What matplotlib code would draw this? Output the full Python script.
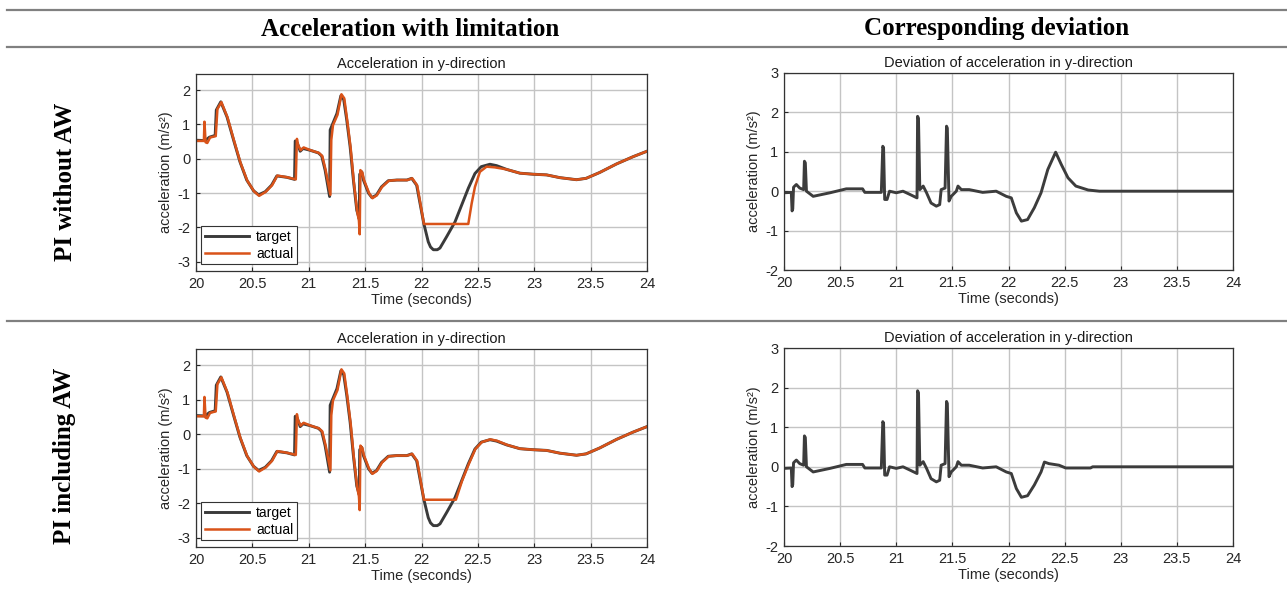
import numpy as np
import matplotlib
matplotlib.use("Agg")
import matplotlib.pyplot as plt
from matplotlib.lines import Line2D
from matplotlib.ticker import FormatStrFormatter

# target acceleration (same in both controller variants)
target_t = [20.00, 20.08, 20.12, 20.17, 20.18, 20.22, 20.275, 20.333, 20.39, 20.45,
            20.51, 20.555, 20.614, 20.67, 20.717, 20.806, 20.874, 20.88, 20.90, 20.924,
            20.95, 21.01, 21.086, 21.115, 21.145, 21.185, 21.19, 21.21, 21.25, 21.285,
            21.31, 21.337, 21.367, 21.396, 21.426, 21.448, 21.452, 21.47, 21.485, 21.53,
            21.56, 21.60, 21.645, 21.705, 21.78, 21.87, 21.913, 21.957, 21.987, 22.02,
            22.06, 22.08, 22.105, 22.14, 22.164, 22.223, 22.297, 22.356, 22.415, 22.474,
            22.53, 22.607, 22.666, 22.755, 22.873, 22.99, 23.11, 23.227, 23.375, 23.46,
            23.58, 23.73, 23.876, 24.00]
target_v = [0.54, 0.53, 0.63, 0.68, 1.42, 1.66, 1.22, 0.55, -0.09, -0.62,
            -0.93, -1.05, -0.96, -0.77, -0.50, -0.54, -0.60, 0.52, 0.45, 0.22,
            0.30, 0.25, 0.17, 0.08, -0.33, -1.10, 0.84, 1.00, 1.32, 1.84,
            1.73, 1.13, 0.35, -0.62, -1.50, -1.75, -0.45, -0.38, -0.62, -1.00,
            -1.13, -1.06, -0.82, -0.64, -0.62, -0.62, -0.57, -0.77, -1.30, -1.88,
            -2.42, -2.57, -2.65, -2.65, -2.60, -2.27, -1.84, -1.35, -0.86, -0.43,
            -0.23, -0.16, -0.20, -0.31, -0.42, -0.45, -0.47, -0.55, -0.61, -0.57,
            -0.40, -0.15, 0.06, 0.22]

# actual acceleration, PI without anti-windup
actual_t_noaw = [20.00, 20.07, 20.075, 20.085, 20.10, 20.125, 20.175, 20.19, 20.225, 20.28,
                 20.338, 20.395, 20.455, 20.515, 20.56, 20.62, 20.675, 20.722, 20.81, 20.885,
                 20.895, 20.905, 20.928, 20.955, 21.015, 21.09, 21.12, 21.15, 21.192, 21.20,
                 21.215, 21.255, 21.29, 21.315, 21.342, 21.372, 21.40, 21.43, 21.445, 21.452,
                 21.458, 21.475, 21.49, 21.535, 21.565, 21.605, 21.65, 21.71, 21.785, 21.875,
                 21.918, 21.962, 21.99, 22.022, 22.415, 22.445, 22.474, 22.518, 22.577, 22.65,
                 22.755, 22.873, 22.99, 23.11, 23.227, 23.375, 23.46, 23.58, 23.73, 23.876,
                 24.00]
actual_v_noaw = [0.52, 0.52, 1.08, 0.48, 0.46, 0.62, 0.66, 1.45, 1.65, 1.20,
                 0.52, -0.12, -0.64, -0.95, -1.08, -0.96, -0.77, -0.49, -0.54, -0.60,
                 0.58, 0.40, 0.25, 0.33, 0.25, 0.17, 0.08, -0.33, -1.05, 0.55,
                 0.98, 1.28, 1.88, 1.76, 1.10, 0.30, -0.68, -1.55, -1.80, -2.20,
                 -0.33, -0.40, -0.62, -1.00, -1.15, -1.06, -0.82, -0.64, -0.62, -0.62,
                 -0.57, -0.78, -1.30, -1.90, -1.90, -1.30, -0.82, -0.38, -0.23, -0.25,
                 -0.31, -0.42, -0.45, -0.47, -0.55, -0.61, -0.57, -0.40, -0.15, 0.06,
                 0.22]

# actual acceleration, PI including anti-windup
actual_t_aw = [20.00, 20.07, 20.075, 20.085, 20.10, 20.125, 20.175, 20.19, 20.225, 20.28,
               20.338, 20.395, 20.455, 20.515, 20.56, 20.62, 20.675, 20.722, 20.81, 20.885,
               20.895, 20.905, 20.928, 20.955, 21.015, 21.09, 21.12, 21.15, 21.192, 21.20,
               21.215, 21.255, 21.29, 21.315, 21.342, 21.372, 21.40, 21.43, 21.445, 21.452,
               21.458, 21.475, 21.49, 21.535, 21.565, 21.605, 21.65, 21.71, 21.785, 21.875,
               21.918, 21.962, 21.99, 22.022, 22.305, 22.36, 22.42, 22.478, 22.535, 22.61,
               22.67, 22.76, 22.873, 22.99, 23.11, 23.227, 23.375, 23.46, 23.58, 23.73,
               23.876, 24.00]
actual_v_aw = [0.52, 0.52, 1.08, 0.48, 0.46, 0.62, 0.66, 1.45, 1.65, 1.20,
               0.52, -0.12, -0.64, -0.95, -1.08, -0.96, -0.77, -0.49, -0.54, -0.60,
               0.58, 0.40, 0.25, 0.33, 0.25, 0.17, 0.08, -0.33, -1.05, 0.55,
               0.98, 1.28, 1.88, 1.76, 1.10, 0.30, -0.68, -1.55, -1.80, -2.20,
               -0.33, -0.40, -0.62, -1.00, -1.15, -1.06, -0.82, -0.64, -0.62, -0.62,
               -0.57, -0.78, -1.30, -1.90, -1.90, -1.35, -0.86, -0.43, -0.23, -0.15,
               -0.19, -0.31, -0.42, -0.45, -0.47, -0.55, -0.61, -0.57, -0.40, -0.15,
               0.06, 0.22]

# deviation target - actual, PI without anti-windup
dev_t_noaw = [20.00, 20.065, 20.072, 20.078, 20.085, 20.095, 20.11, 20.14, 20.175, 20.182,
              20.19, 20.20, 20.26, 20.41, 20.555, 20.70, 20.72, 20.867, 20.88, 20.887,
              20.897, 20.918, 20.94, 21.00, 21.06, 21.12, 21.185, 21.19, 21.198, 21.21,
              21.24, 21.27, 21.31, 21.357, 21.387, 21.40, 21.435, 21.448, 21.455, 21.47,
              21.49, 21.535, 21.55, 21.56, 21.58, 21.65, 21.77, 21.89, 21.98, 22.025,
              22.07, 22.115, 22.17, 22.23, 22.29, 22.35, 22.42, 22.47, 22.53, 22.60,
              22.71, 22.81, 24.00]
dev_v_noaw = [-0.04, -0.03, -0.50, -0.45, 0.10, 0.13, 0.17, 0.08, 0.04, 0.76,
              0.72, 0.00, -0.13, -0.04, 0.06, 0.06, -0.03, -0.03, 1.14, 1.10,
              -0.21, -0.21, 0.00, -0.04, 0.00, -0.08, -0.17, 1.90, 1.85, 0.04,
              0.13, -0.04, -0.30, -0.38, -0.34, 0.04, 0.08, 1.65, 1.60, -0.25,
              -0.13, 0.00, 0.13, 0.10, 0.04, 0.04, -0.03, 0.00, -0.13, -0.17,
              -0.55, -0.76, -0.72, -0.42, -0.04, 0.55, 0.99, 0.68, 0.34, 0.13,
              0.03, 0.00, 0.00]

# deviation target - actual, PI including anti-windup
dev_t_aw = [20.00, 20.065, 20.072, 20.078, 20.085, 20.095, 20.11, 20.14, 20.175, 20.182,
            20.19, 20.20, 20.26, 20.41, 20.555, 20.70, 20.72, 20.867, 20.88, 20.887,
            20.897, 20.918, 20.94, 21.00, 21.06, 21.12, 21.185, 21.19, 21.198, 21.21,
            21.24, 21.27, 21.31, 21.357, 21.387, 21.40, 21.435, 21.448, 21.455, 21.47,
            21.49, 21.535, 21.55, 21.56, 21.58, 21.65, 21.77, 21.89, 21.98, 22.025,
            22.07, 22.115, 22.17, 22.23, 22.29, 22.32, 22.36, 22.45, 22.51, 22.73,
            22.75, 24.00]
dev_v_aw = [-0.04, -0.03, -0.50, -0.45, 0.10, 0.13, 0.17, 0.08, 0.04, 0.78,
            0.74, 0.00, -0.13, -0.04, 0.06, 0.06, -0.03, -0.03, 1.14, 1.10,
            -0.21, -0.21, 0.00, -0.04, 0.00, -0.08, -0.17, 1.92, 1.87, 0.04,
            0.13, -0.04, -0.30, -0.38, -0.34, 0.04, 0.08, 1.65, 1.60, -0.25,
            -0.13, 0.00, 0.13, 0.10, 0.04, 0.04, -0.03, 0.00, -0.13, -0.17,
            -0.55, -0.77, -0.73, -0.46, -0.13, 0.12, 0.08, 0.04, -0.03, -0.03,
            0.00, 0.00]

col_headers = ["Acceleration with limitation", "Corresponding deviation"]
row_labels = ["PI without AW", "PI including AW"]
x_ticks = [20, 20.5, 21, 21.5, 22, 22.5, 23, 23.5, 24]

W, H = 1287, 592
plt.rcParams['font.family'] = ['Liberation Sans', 'DejaVu Sans']

fig = plt.figure(figsize=(W / 100, H / 100), dpi=100)


def box(x0, y0, x1, y1):
    # pixel box (top-left origin) -> figure fraction rect
    return [x0 / W, 1 - y1 / H, (x1 - x0) / W, (y1 - y0) / H]


def style_axes(ax, title, ylim, yticks):
    ax.set_xlim(20, 24)
    ax.set_ylim(*ylim)
    ax.set_xticks(x_ticks)
    ax.set_yticks(yticks)
    ax.xaxis.set_major_formatter(FormatStrFormatter('%g'))
    ax.yaxis.set_major_formatter(FormatStrFormatter('%g'))
    ax.grid(True, color='#c4c4c4', linewidth=1.0)
    ax.set_axisbelow(True)
    ax.tick_params(direction='in', length=3, labelsize=10.5, colors='#262626', pad=4)
    for s in ax.spines.values():
        s.set_color('#333333')
        s.set_linewidth(0.9)
    ax.set_title(title, fontsize=10.5, pad=4, color='#1a1a1a')
    ax.set_xlabel('Time (seconds)', fontsize=10.5, labelpad=2, color='#262626')
    ax.set_ylabel('acceleration (m/s²)', fontsize=10.5, labelpad=3, color='#262626')


rows = [
    (74, 271, actual_t_noaw, actual_v_noaw, dev_t_noaw, dev_v_noaw),
    (349, 547, actual_t_aw, actual_v_aw, dev_t_aw, dev_v_aw),
]

for top, bottom, at, av, dt, dv in rows:
    ax = fig.add_axes(box(196, top, 647, bottom))
    ax.plot(target_t, target_v, color='#3a3a3a', linewidth=2.1, label='target')
    ax.plot(at, av, color='#d95319', linewidth=1.8, label='actual')
    style_axes(ax, 'Acceleration in y-direction', (-3.27, 2.47), [-3, -2, -1, 0, 1, 2])
    leg = ax.legend(loc='lower left', bbox_to_anchor=(0.012, 0.035), fontsize=10,
                    handlelength=3.2, fancybox=False, framealpha=1,
                    borderpad=0.25, labelspacing=0.2, handletextpad=0.5,
                    borderaxespad=0)
    leg.get_frame().set_edgecolor('#333333')
    leg.get_frame().set_linewidth(0.8)

    ax2 = fig.add_axes(box(784, top - 1, 1233, bottom - 1))
    ax2.plot(dt, dv, color='#3c3c3c', linewidth=2.1)
    style_axes(ax2, 'Deviation of acceleration in y-direction', (-2, 3), [-2, -1, 0, 1, 2, 3])

# table rules
for y in [10, 47, 321]:
    fig.add_artist(Line2D([7 / W, 1], [1 - y / H, 1 - y / H], transform=fig.transFigure,
                          color='#808080', linewidth=1.6))

# column headers and row labels
serif = ['Liberation Serif', 'DejaVu Serif']
fig.text(410 / W, 1 - 29 / H, col_headers[0], ha='center', va='center',
         fontsize=18, fontweight='bold', family=serif)
fig.text(997 / W, 1 - 29 / H, col_headers[1], ha='center', va='center',
         fontsize=18, fontweight='bold', family=serif)
fig.text(65 / W, 1 - 182 / H, row_labels[0], ha='center', va='center', rotation=90,
         fontsize=18, fontweight='bold', family=serif)
fig.text(65 / W, 1 - 456 / H, row_labels[1], ha='center', va='center', rotation=90,
         fontsize=18, fontweight='bold', family=serif)

fig.savefig('out.png', dpi=100)
